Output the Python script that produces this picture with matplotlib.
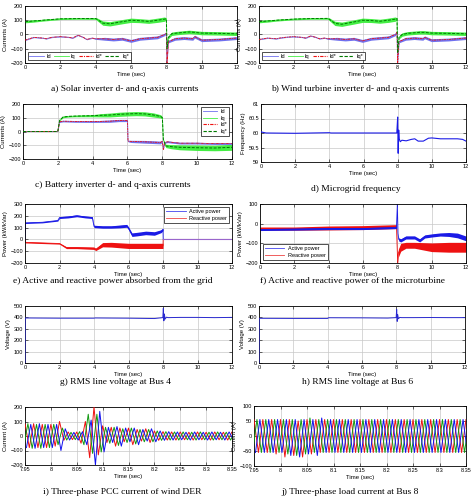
import numpy as np
import matplotlib.pyplot as plt
from matplotlib.lines import Line2D

plt.rcParams['font.family'] = ['Liberation Sans', 'DejaVu Sans']

# ---------------- data ----------------
# a) solar inverter currents
a_iq_t = [0, 0.5, 1, 2, 3, 4, 4.1, 4.4, 4.8, 5.5, 6, 6.5, 7, 7.5, 7.9, 8.0, 8.04, 8.12, 8.3, 8.6, 9, 9.3, 9.6, 10, 11, 12]
a_iq_c = [90, 95, 100, 110, 112, 112, 105, 80, 75, 90, 100, 97, 92, 100, 108, 110, -100, -20, 5, 10, 15, 18, 15, 10, 8, 5]
a_iq_w = [8, 8, 6, 5, 5, 6, 10, 15, 15, 15, 15, 14, 14, 15, 15, 5, 2, 10, 12, 12, 12, 12, 12, 12, 12, 12]
a_id_t = [0, 0.5, 1, 1.2, 1.5, 2, 2.5, 2.7, 3, 3.3, 3.5, 3.8, 4, 4.5, 5, 5.5, 6, 6.5, 7, 7.5, 7.9, 8.0, 8.04, 8.12, 8.5, 9, 9.5, 9.6, 10, 11, 12]
a_id_c = [-40, -20, -25, -30, -20, -15, -20, -25, -5, -20, -35, -25, -30, -30, -35, -30, -45, -30, -25, -20, 0, 10, -200, -50, -30, -25, -30, -15, -40, -35, -25]
a_id_w = [2, 2, 2, 2, 2, 2, 2, 2, 2, 2, 2, 2, 4, 10, 10, 10, 10, 10, 10, 10, 8, 4, 2, 8, 10, 10, 10, 10, 10, 10, 10]

# b) wind turbine inverter currents
b_iq_t = [0, 0.5, 1, 2, 3, 4, 4.1, 4.4, 4.8, 5.5, 6, 6.5, 7, 7.5, 7.9, 8.0, 8.04, 8.12, 8.3, 8.6, 9, 9.3, 9.6, 10, 11, 12]
b_iq_c = [90, 95, 100, 108, 112, 113, 105, 78, 72, 88, 100, 98, 93, 100, 108, 112, -130, -20, 0, 8, 12, 15, 15, 10, 8, 5]
b_iq_w = [8, 8, 6, 5, 5, 6, 10, 15, 15, 15, 15, 14, 14, 15, 15, 5, 2, 10, 12, 12, 12, 12, 12, 12, 12, 12]
b_id_t = [0, 0.5, 1, 1.2, 1.5, 2, 2.5, 2.7, 3, 3.3, 3.5, 3.8, 4, 4.5, 5, 5.5, 6, 6.5, 7, 7.5, 7.9, 8.0, 8.04, 8.12, 8.5, 9, 9.5, 9.6, 10, 11, 12]
b_id_c = [-35, -25, -30, -25, -20, -15, -20, -25, -10, -20, -30, -25, -30, -30, -35, -30, -45, -30, -25, -20, 0, 15, -200, -50, -30, -25, -30, -20, -40, -35, -25]
b_id_w = [2, 2, 2, 2, 2, 2, 2, 2, 2, 2, 2, 2, 4, 10, 10, 10, 10, 10, 10, 10, 8, 4, 2, 8, 10, 10, 10, 10, 10, 10, 10]

# c) battery inverter currents
c_iq_t = [0, 2, 2.1, 2.3, 2.6, 3, 4, 4.5, 5, 5.5, 6, 6.5, 7, 7.5, 7.9, 8.0, 8.06, 8.2, 8.5, 9, 10, 11, 12]
c_iq_c = [0, 0, 80, 105, 110, 112, 115, 118, 120, 125, 128, 130, 128, 120, 110, 100, -60, -105, -110, -115, -118, -120, -115]
c_iq_w = [0, 0, 3, 5, 5, 5, 8, 12, 14, 15, 15, 15, 15, 15, 12, 8, 2, 12, 15, 18, 20, 20, 22]
c_id_t = [0, 2, 2.1, 2.3, 3, 4, 5, 5.5, 6, 6.03, 6.2, 7, 7.9, 8.0, 8.06, 8.14, 8.3, 9, 10, 11, 12]
c_id_c = [0, 0, 70, 75, 73, 72, 75, 80, 80, -70, -72, -75, -80, -70, -130, -80, -75, -85, -85, -88, -88]
c_id_w = [0, 0, 4, 5, 6, 6, 8, 8, 8, 5, 8, 10, 10, 6, 2, 5, 6, 6, 6, 6, 6]

# d) microgrid frequency
d_t = [0, 0.05, 0.3, 2, 4, 4.1, 6, 7.95, 8.0, 8.03, 8.06, 8.09, 8.15, 8.25, 8.5, 8.8, 9.0, 9.2, 9.5, 9.8, 10, 10.5, 11, 11.5, 11.8, 12]
d_f = [60.05, 60.03, 60.0, 59.99, 60.01, 60.0, 60.0, 60.0, 60.55, 59.3, 60.1, 59.8, 59.7, 59.75, 59.73, 59.78, 59.8, 59.72, 59.72, 59.82, 59.83, 59.8, 59.8, 59.8, 59.78, 59.72]

# e) grid power
e_p_t = [0, 0.02, 1, 1.9, 2.0, 2.5, 3.0, 3.5, 3.9, 4.0, 4.5, 5, 5.5, 5.9, 6.0, 6.2, 6.5, 7, 7.5, 7.9, 8.0, 8.01, 12]
e_p_c = [0, 140, 145, 160, 185, 190, 200, 190, 185, 110, 105, 105, 110, 115, 95, 40, 45, 55, 50, 70, 85, 0, 0]
e_p_w = [0, 5, 5, 5, 8, 8, 8, 8, 8, 10, 10, 10, 12, 12, 12, 15, 15, 15, 15, 12, 10, 0, 0]
e_q_t = [0, 0.02, 1, 2, 2.4, 3, 4, 4.1, 4.5, 5, 6, 7, 8, 8.01, 12]
e_q_c = [0, -25, -30, -35, -70, -70, -75, -85, -45, -45, -55, -55, -55, 0, 0]
e_q_w = [0, 5, 5, 5, 8, 8, 10, 10, 18, 20, 22, 22, 22, 0, 0]

# f) microturbine power
f_p_t = [0, 2, 4, 6, 7.95, 8.0, 8.04, 8.08, 8.2, 8.5, 9, 9.3, 9.6, 10, 10.5, 11, 11.5, 12]
f_p_c = [-30, -28, -25, -25, -20, 100, -50, -80, -85, -70, -70, -85, -65, -60, -55, -55, -60, -75]
f_p_w = [5, 5, 5, 5, 5, 2, 2, 8, 8, 8, 8, 8, 8, 8, 8, 10, 12, 12]
f_q_t = [0, 2, 4, 6, 7.95, 8.02, 8.06, 8.2, 8.5, 9, 10, 11, 12]
f_q_c = [-25, -25, -22, -20, -15, -200, -150, -120, -110, -110, -120, -120, -120]
f_q_w = [8, 8, 10, 10, 10, 2, 20, 20, 15, 15, 22, 25, 25]

# g), h) RMS line voltage
g_t = [0, 0.01, 0.05, 2, 4, 4.05, 6, 7.5, 7.99, 8.02, 8.05, 8.08, 8.12, 8.2, 8.3, 9, 10, 11, 12]
g_v = [0, 395, 395, 393, 393, 395, 393, 390, 398, 480, 370, 430, 385, 402, 398, 400, 400, 398, 400]
h_t = [0, 0.01, 0.05, 2, 4, 4.05, 6, 7.5, 7.99, 8.02, 8.05, 8.08, 8.12, 8.2, 8.3, 9, 10, 11, 12]
h_v = [0, 392, 392, 391, 391, 397, 396, 394, 398, 470, 365, 425, 388, 400, 398, 398, 399, 398, 398]

# i) three-phase PCC current of wind DER, successive half-cycle peaks (A)
i_red = [-85, 85, -80, 85, -80, 80, -80, 80, -70, 100, -30, 28, -25, 28, -50, 100, -150, 200, -130, 70,
         -45, 60, -70, 55, -40, 55, -60, 45, -35, 50, -45, 35, -30, 30, -28, 28, -28, 28, -26, 26,
         -28, 28, -26, 26, -28, 28, -26, 26, -28, 28]
i_green = [-80, 85, -85, 80, -85, 80, -80, 80, -60, 55, -28, 25, -25, 30, -60, 150, -120, 150, -110, 60,
           -50, 60, -65, 50, -45, 55, -55, 45, -40, 45, -40, 35, -30, 30, -28, 28, -28, 28, -26, 26,
           -28, 28, -26, 26, -28, 28, -26, 26, -28, 28]
i_blue = [-80, 80, -85, 85, -80, 80, -80, 80, -100, 50, -28, 25, -28, 30, -60, 110, -200, 170, -110, 60,
          -45, 65, -70, 55, -40, 55, -60, 45, -35, 50, -40, 35, -30, 30, -28, 28, -26, 26, -28, 28,
          -26, 26, -28, 28, -26, 26, -28, 28, -26, 26]

# j) three-phase load current at Bus 8, successive half-cycle peaks (A)
j_red = [-55, 55, -55, 55, -55, 55, -60, 55, -70, 55, -65, 50, -70, 55, -60, 55, -55, 55, -55, 55,
         -55, 55, -55, 55, -55, 55, -55, 55, -55, 55, -55, 55, -55, 55, -55, 55, -55, 55, -55, 55,
         -55, 55, -55, 55, -55, 55, -55, 55, -55, 55]
j_green = [-55, 55, -55, 55, -55, 55, -55, 55, -60, 55, -65, 55, -60, 60, -55, 55, -55, 55, -55, 55,
           -55, 55, -55, 55, -55, 55, -55, 55, -55, 55, -55, 55, -55, 55, -55, 55, -55, 55, -55, 55,
           -55, 55, -55, 55, -55, 55, -55, 55, -55, 55]
j_blue = [-55, 55, -55, 55, -55, 55, -55, 55, -65, 55, -70, 55, -60, 55, -65, 60, -55, 55, -55, 55,
          -55, 55, -55, 55, -55, 55, -55, 55, -55, 55, -55, 55, -55, 55, -55, 55, -55, 55, -55, 55,
          -55, 55, -55, 55, -55, 55, -55, 55, -55, 55]

captions = ['a) Solar inverter d- and q-axis currents',
            'b) Wind turbine inverter d- and q-axis currents',
            'c) Battery inverter d- and q-axis currents',
            'd) Microgrid frequency',
            'e) Active and reactive power absorbed from the grid',
            'f) Active and reactive power of the microturbine',
            'g) RMS line voltage at Bus 4',
            'h) RMS line voltage at Bus 6',
            'i) Three-phase PCC current of wind DER',
            'j) Three-phase load current at Bus 8']

# ---------------- layout ----------------
W, H = 474, 503
fig = plt.figure(figsize=(W / 100, H / 100), dpi=100)
fig.patch.set_facecolor('white')

def rect(l, t, r, b):
    return [l / W, 1 - b / H, (r - l) / W, (b - t) / H]

ID_C = '#7070ee'
IQ_C = '#44ee44'
RED = '#ee1111'
DKG = '#007a00'
BLUE = '#1a1ae6'
SCOL = ['#ee1111', '#119911', '#1111ee']

def style(ax, xlim, xticks, ylim, yticks, ylabel, xtl=None):
    ax.set_xlim(xlim)
    ax.set_ylim(ylim)
    ax.set_xticks(xticks)
    if xtl is not None:
        ax.set_xticklabels(xtl)
    ax.set_yticks(yticks)
    ax.tick_params(direction='in', length=2, width=0.4, labelsize=4, pad=1.5,
                   top=True, right=True)
    ax.grid(True, color='#c8c8c8', lw=0.5)
    ax.set_axisbelow(True)
    for s in ax.spines.values():
        s.set_linewidth(0.6)
    ax.set_xlabel('Time (sec)', fontsize=4.3, labelpad=1.5)
    ax.set_ylabel(ylabel, fontsize=4.3, labelpad=1.5)

def band(ax, t, c, w, color, lw=0.6):
    c = np.array(c, float)
    w = np.array(w, float)
    ax.fill_between(t, c - w, c + w, color=color, lw=0, zorder=2)
    ax.plot(t, c, color=color, lw=lw, zorder=2)

def currents(ax, iq_t, iq_c, iq_w, id_t, id_c, id_w):
    band(ax, iq_t, iq_c, iq_w, IQ_C)
    band(ax, id_t, id_c, id_w, ID_C)
    ax.plot(id_t, id_c, color=RED, lw=0.6, ls=(0, (3, 1, 1, 1)), zorder=3)
    ax.plot(iq_t, iq_c, color=DKG, lw=0.7, ls=(0, (3, 1.5)), zorder=3)

cur_handles = [Line2D([], [], color=ID_C, lw=0.6), Line2D([], [], color=IQ_C, lw=0.6),
               Line2D([], [], color=RED, lw=0.8, ls=(0, (3, 1, 1, 1))),
               Line2D([], [], color=DKG, lw=0.8, ls=(0, (3, 1.5)))]
cur_labels = ['Id', 'Iq', 'Id*', 'Iq*']

def legend(ax, handles, labels, **kw):
    opts = dict(fontsize=4, frameon=True, fancybox=False, handlelength=3.5,
                borderpad=0.4, labelspacing=0.3, handletextpad=0.6)
    opts.update(kw)
    lg = ax.legend(handles, labels, **opts)
    lg.get_frame().set_edgecolor('black')
    lg.get_frame().set_linewidth(0.6)
    lg.set_zorder(5)

hours = [0, 2, 4, 6, 8, 10, 12]

# a
ax = fig.add_axes(rect(25, 6, 237, 63))
currents(ax, a_iq_t, a_iq_c, a_iq_w, a_id_t, a_id_c, a_id_w)
style(ax, (0, 12), hours, (-200, 200), [-200, -100, 0, 100, 200], 'Currents (A)')
legend(ax, cur_handles, cur_labels, loc='lower left', ncol=4, columnspacing=0.6,
       handlelength=2.6, handletextpad=0.4, borderpad=0.3, bbox_to_anchor=(0.0, 0.0))

# b
ax = fig.add_axes(rect(259, 6, 466, 63))
currents(ax, b_iq_t, b_iq_c, b_iq_w, b_id_t, b_id_c, b_id_w)
style(ax, (0, 12), hours, (-200, 200), [-200, -100, 0, 100, 200], 'Currents (A)')
legend(ax, cur_handles, cur_labels, loc='lower left', ncol=4, columnspacing=0.6,
       handlelength=2.6, handletextpad=0.4, borderpad=0.3, bbox_to_anchor=(0.0, 0.0))

# c
ax = fig.add_axes(rect(23, 104, 232, 159))
currents(ax, c_iq_t, c_iq_c, c_iq_w, c_id_t, c_id_c, c_id_w)
style(ax, (0, 12), hours, (-200, 200), [-200, -100, 0, 100, 200], 'Currents (A)')
legend(ax, cur_handles, cur_labels, loc='upper right', ncol=1, handlelength=2.5)

# d
ax = fig.add_axes(rect(261, 104, 466, 162))
ax.plot(d_t, d_f, color=BLUE, lw=0.8, zorder=3)
style(ax, (0, 12), hours, (59, 61), [59, 59.5, 60, 60.5, 61], 'Frequency (Hz)')
ax.set_yticklabels(['59', '59.5', '60', '60.5', '61'])

# e
ax = fig.add_axes(rect(25, 204, 232, 263))
band(ax, e_p_t, e_p_c, e_p_w, BLUE)
band(ax, e_q_t, e_q_c, e_q_w, RED)
ax.plot([8.01, 12], [0, 0], color='#9966cc', lw=0.8, zorder=3)
style(ax, (0, 12), hours, (-200, 300), [-200, -100, 0, 100, 200, 300], 'Power (kW/kVar)')
legend(ax, [Line2D([], [], color='#4444ee', lw=0.6), Line2D([], [], color='#ee4444', lw=0.6)],
       ['Active power', 'Reactive power'], loc='upper right')

# f
ax = fig.add_axes(rect(260, 204, 466, 263))
band(ax, f_q_t, f_q_c, f_q_w, RED)
band(ax, f_p_t, f_p_c, f_p_w, BLUE)
style(ax, (0, 12), hours, (-200, 100), [-200, -100, 0, 100], 'Power (kW/kVar)')
legend(ax, [Line2D([], [], color='#4444ee', lw=0.6), Line2D([], [], color='#ee4444', lw=0.6)],
       ['Active power', 'Reactive power'], loc='lower left')

# g
ax = fig.add_axes(rect(25, 306, 232, 363))
ax.plot(g_t, g_v, color='#2a2ad0', lw=0.7, zorder=3)
style(ax, (0, 12), hours, (0, 500), [0, 100, 200, 300, 400, 500], 'Voltage (V)')

# h
ax = fig.add_axes(rect(259, 306, 465, 363))
ax.plot(h_t, h_v, color='#2a2ad0', lw=0.7, zorder=3)
style(ax, (0, 12), hours, (0, 500), [0, 100, 200, 300, 400, 500], 'Voltage (V)')

# three-phase waveforms: peaks every half cycle of 60 Hz, phases 120 deg apart
period = 1 / 60
ms_ticks = [7.95, 8.0, 8.05, 8.1, 8.15, 8.2, 8.25, 8.3, 8.35]
ms_labels = ['7.95', '8', '8.05', '8.1', '8.15', '8.2', '8.25', '8.3', '8.35']

def phases(ax, series):
    for p, (vals, col) in enumerate(zip(series, SCOL)):
        t = 7.95 - period / 2 + p * period / 3 + np.arange(len(vals)) * period / 2
        ax.plot(t, vals, color=col, lw=0.7, zorder=3)

ax = fig.add_axes(rect(25, 407, 232, 465))
phases(ax, [i_red, i_green, i_blue])
style(ax, (7.95, 8.35), ms_ticks, (-200, 200), [-200, -100, 0, 100, 200], 'Current (A)', ms_labels)

ax = fig.add_axes(rect(254, 406, 466, 466))
phases(ax, [j_red, j_green, j_blue])
style(ax, (7.95, 8.35), ms_ticks, (-100, 100), [-100, -50, 0, 50, 100], 'Current (A)', ms_labels)

# captions
cap_pos = [(125, 89), (360, 89), (113, 185), (356, 189), (113, 281),
           (353, 281), (116, 382), (358, 382), (122, 492), (350, 492)]
for (x, y), s in zip(cap_pos, captions):
    fig.text(x / W, 1 - y / H, s, ha='center', va='center',
             family='Liberation Serif', fontsize=6.8)

fig.savefig('out.png', dpi=100, facecolor='white')
